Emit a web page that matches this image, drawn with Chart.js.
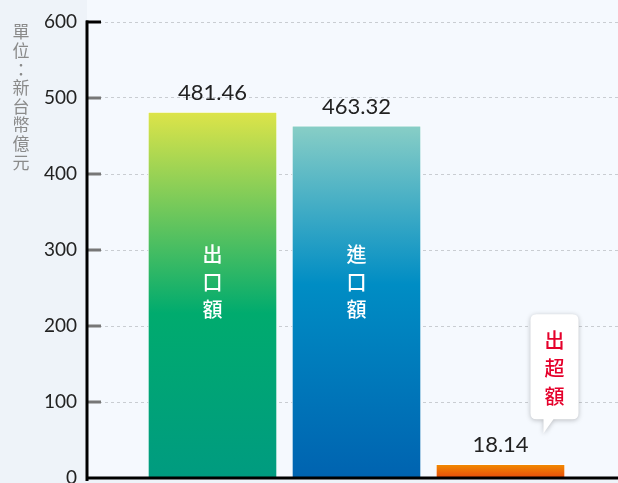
<!DOCTYPE html>
<html lang="zh-Hant">
<head>
<meta charset="utf-8">
<title>出口額與進口額</title>
<script src="https://cdn.jsdelivr.net/npm/chart.js@4.4.0/dist/chart.umd.min.js"></script>
<style>
  html, body { margin: 0; padding: 0; background: #eef3f9; overflow: hidden; }
  #tradeChart { display: block; }
</style>
</head>
<body>
<canvas id="tradeChart" width="618" height="500"></canvas>
<script>
// Data
const categories = ['出口額', '進口額', '出超額'];
const values = [481.46, 463.32, 18.14];
const yTicks = [0, 100, 200, 300, 400, 500, 600];
const unitLabel = '單位：新台幣億元';

// Gradient stops for each bar (top -> bottom of the bar)
const barGradients = [
    [[0, '#dde449'], [0.55, '#00ab6e'], [1, '#009b80']],
    [[0, '#88cec6'], [0.45, '#008dc4'], [1, '#0063b0']],
    [[0, '#f28c00'], [1, '#e64b0c']]
];

const numFont = 'Lato, "Noto Sans", sans-serif';
const cjkFont = '"Noto Sans CJK TC", "Noto Sans CJK SC", sans-serif';

/**
 * Vertical gradient fill for each bar
 */
function barFill(ctx) {
    const chart = ctx.chart;
    if (!chart.chartArea || ctx.type !== 'data') return '#009b80';
    const i = ctx.dataIndex;
    const y = chart.scales.y;
    const top = y.getPixelForValue(values[i]);
    const bottom = y.getPixelForValue(0);
    const g = chart.ctx.createLinearGradient(0, top, 0, bottom);
    barGradients[i].forEach(([stop, color]) => g.addColorStop(stop, color));
    return g;
}

function drawVertical(c, text, x, yStart, step) {
    [...text].forEach((ch, k) => c.fillText(ch, x, yStart + k * step));
}

const decorPlugin = {
    id: 'decor',
    beforeDraw(chart) {
        const { ctx, chartArea: a } = chart;
        ctx.save();
        ctx.fillStyle = '#f5f9fe';
        ctx.fillRect(a.left, 0, a.right - a.left, a.bottom);
        ctx.restore();
    },
    afterDatasetsDraw(chart) {
        const { ctx, chartArea: a } = chart;
        const yScale = chart.scales.y;
        const bars = chart.getDatasetMeta(0).data;
        ctx.save();

        // short tick marks inside the plot
        yTicks.forEach(v => {
            if (v === 0) return;
            const py = yScale.getPixelForValue(v);
            ctx.beginPath();
            ctx.strokeStyle = v === yTicks[yTicks.length - 1] ? '#000' : '#777';
            ctx.lineWidth = 3;
            ctx.moveTo(a.left - 1, py);
            ctx.lineTo(a.left + 14, py);
            ctx.stroke();
        });

        // axis lines
        ctx.beginPath();
        ctx.strokeStyle = '#000';
        ctx.lineWidth = 3;
        ctx.moveTo(a.left, a.top - 1.5);
        ctx.lineTo(a.left, a.bottom + 3);
        ctx.moveTo(a.left - 1.5, a.bottom);
        ctx.lineTo(a.right, a.bottom);
        ctx.stroke();

        // value labels above bars
        ctx.fillStyle = '#222';
        ctx.font = '22px ' + numFont;
        ctx.textAlign = 'center';
        ctx.textBaseline = 'middle';
        bars.forEach((bar, i) => {
            ctx.fillText(values[i].toFixed(2), bar.x, bar.y - 19);
        });

        // category names inside the two big bars
        ctx.fillStyle = '#fff';
        ctx.font = '500 20px ' + cjkFont;
        const midY = yScale.getPixelForValue(258);
        [0, 1].forEach(i => {
            drawVertical(ctx, categories[i], bars[i].x, midY - 27.5, 27.5);
        });

        // callout bubble for the small bar
        const b = bars[2];
        const tipX = b.x + 43, tipY = b.y - 31;
        const boxL = tipX - 13, boxR = boxL + 48;
        const boxB = tipY - 14, boxT = boxB - 105;
        const r = 6;
        ctx.save();
        ctx.shadowColor = 'rgba(0,0,0,0.25)';
        ctx.shadowBlur = 5;
        ctx.shadowOffsetY = 1;
        ctx.fillStyle = '#fff';
        ctx.beginPath();
        ctx.moveTo(boxL + r, boxT);
        ctx.lineTo(boxR - r, boxT);
        ctx.quadraticCurveTo(boxR, boxT, boxR, boxT + r);
        ctx.lineTo(boxR, boxB - r);
        ctx.quadraticCurveTo(boxR, boxB, boxR - r, boxB);
        ctx.lineTo(tipX + 10, boxB);
        ctx.lineTo(tipX, tipY);
        ctx.lineTo(tipX, boxB);
        ctx.lineTo(boxL + r, boxB);
        ctx.quadraticCurveTo(boxL, boxB, boxL, boxB - r);
        ctx.lineTo(boxL, boxT + r);
        ctx.quadraticCurveTo(boxL, boxT, boxL + r, boxT);
        ctx.closePath();
        ctx.fill();
        ctx.restore();

        ctx.fillStyle = '#e5002b';
        ctx.font = '500 20px ' + cjkFont;
        ctx.textAlign = 'center';
        ctx.textBaseline = 'middle';
        drawVertical(ctx, categories[2], (boxL + boxR) / 2, boxT + 26, 28);

        ctx.restore();
    },
    afterDraw(chart) {
        const ctx = chart.ctx;
        ctx.save();
        ctx.fillStyle = '#8a8a8a';
        ctx.font = '17px ' + cjkFont;
        ctx.textAlign = 'center';
        ctx.textBaseline = 'middle';
        drawVertical(ctx, unitLabel, 21, 32, 18.6);
        ctx.restore();
    }
};

document.addEventListener('DOMContentLoaded', function() {
    const canvas = document.getElementById('tradeChart');

    new Chart(canvas, {
        type: 'bar',
        data: {
            datasets: [{
                label: '金額',
                data: values.map((v, i) => ({ x: i + 1, y: v })),
                backgroundColor: barFill,
                borderColor: 'rgba(255,255,255,0.8)',
                borderWidth: 1,
                borderSkipped: 'bottom',
                barThickness: 129
            }]
        },
        options: {
            responsive: false,
            animation: false,
            layout: { padding: { top: 22, bottom: 22, left: 0, right: 0 } },
            plugins: {
                legend: { display: false },
                tooltip: { enabled: false }
            },
            scales: {
                x: {
                    type: 'linear',
                    display: false,
                    offset: false,
                    min: 0.1285,
                    max: 3.816
                },
                y: {
                    min: 0,
                    max: 600,
                    afterFit(scale) { scale.width = 87; },
                    afterBuildTicks(scale) { scale.ticks = yTicks.map(v => ({ value: v })); },
                    border: { display: false, dash: [3, 3] },
                    grid: {
                        color: '#c9cdd2',
                        lineWidth: 1,
                        drawTicks: false
                    },
                    ticks: {
                        padding: 10,
                        color: '#222',
                        font: { family: numFont, size: 19 }
                    }
                }
            }
        },
        plugins: [decorPlugin]
    });
});
</script>
</body>
</html>
